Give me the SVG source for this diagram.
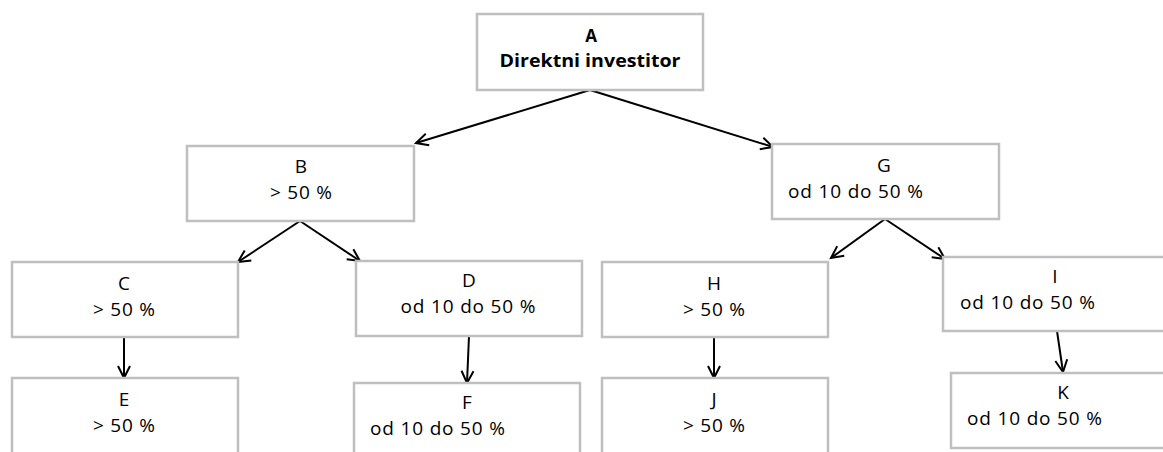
<svg xmlns="http://www.w3.org/2000/svg" width="1163" height="452" viewBox="0 0 1163 452">
<style>
.box{fill:#fff;stroke:#bfbfbf;stroke-width:2.5}
.t{font-family:"Open Sans","Liberation Sans",Arial,sans-serif;font-size:19px;fill:#000}
.b{font-weight:bold;font-size:17px}
.m{text-anchor:middle}
.c{stroke:#000;stroke-width:2;fill:none;marker-end:url(#ah)}
</style>
<defs>
<marker id="ah" markerUnits="userSpaceOnUse" markerWidth="16" markerHeight="16" refX="13" refY="7" orient="auto" viewBox="0 0 16 14">
<path d="M1,1 L13,7 L1,13" fill="none" stroke="#000" stroke-width="2"/>
</marker>
</defs>
<g id="connectors">
<line class="c" x1="590" y1="90" x2="416" y2="143"/>
<line class="c" x1="590" y1="90" x2="773" y2="147"/>
<line class="c" x1="300" y1="221" x2="238" y2="262"/>
<line class="c" x1="300" y1="221" x2="360" y2="261"/>
<line class="c" x1="885" y1="219" x2="831" y2="258"/>
<line class="c" x1="885" y1="219" x2="945" y2="259"/>
<line class="c" x1="124" y1="337" x2="124" y2="378"/>
<line class="c" x1="469" y1="336" x2="467" y2="383"/>
<line class="c" x1="714" y1="337" x2="714" y2="378"/>
<line class="c" x1="1057" y1="331" x2="1063" y2="372"/>
</g>
<g id="A">
<rect class="box" x="477" y="14" width="226" height="76"/>
<text class="t b m" x="591" y="42">A</text>
<text class="t b m" x="590" y="67" textLength="181" lengthAdjust="spacingAndGlyphs">Direktni investitor</text>
</g>
<g id="B">
<rect class="box" x="187" y="146" width="227" height="75"/>
<text class="t m" x="301" y="173">B</text>
<text class="t m" x="301" y="199" textLength="62">&gt; 50 %</text>
</g>
<g id="G">
<rect class="box" x="772" y="144" width="227" height="75"/>
<text class="t m" x="884" y="172">G</text>
<text class="t" x="788" y="198" textLength="135">od 10 do 50 %</text>
</g>
<g id="C">
<rect class="box" x="12" y="262" width="226" height="75"/>
<text class="t m" x="124" y="290">C</text>
<text class="t m" x="124" y="316" textLength="62">&gt; 50 %</text>
</g>
<g id="D">
<rect class="box" x="356" y="261" width="226" height="75"/>
<text class="t m" x="469" y="287">D</text>
<text class="t m" x="468" y="313" textLength="135">od 10 do 50 %</text>
</g>
<g id="H">
<rect class="box" x="602" y="262" width="226" height="75"/>
<text class="t m" x="714" y="290">H</text>
<text class="t m" x="714" y="316" textLength="62">&gt; 50 %</text>
</g>
<g id="I">
<rect class="box" x="943" y="257" width="226" height="74"/>
<text class="t m" x="1055" y="283">I</text>
<text class="t" x="960" y="309" textLength="135">od 10 do 50 %</text>
</g>
<g id="E">
<rect class="box" x="12" y="378" width="226" height="90"/>
<text class="t m" x="124" y="406">E</text>
<text class="t m" x="124" y="432" textLength="62">&gt; 50 %</text>
</g>
<g id="F">
<rect class="box" x="354" y="383" width="226" height="90"/>
<text class="t m" x="467" y="409">F</text>
<text class="t" x="370" y="435" textLength="135">od 10 do 50 %</text>
</g>
<g id="J">
<rect class="box" x="602" y="378" width="226" height="90"/>
<text class="t m" x="714" y="406">J</text>
<text class="t m" x="714" y="432" textLength="62">&gt; 50 %</text>
</g>
<g id="K">
<rect class="box" x="951" y="373" width="226" height="75"/>
<text class="t m" x="1063" y="399">K</text>
<text class="t" x="967" y="425" textLength="135">od 10 do 50 %</text>
</g>
</svg>
